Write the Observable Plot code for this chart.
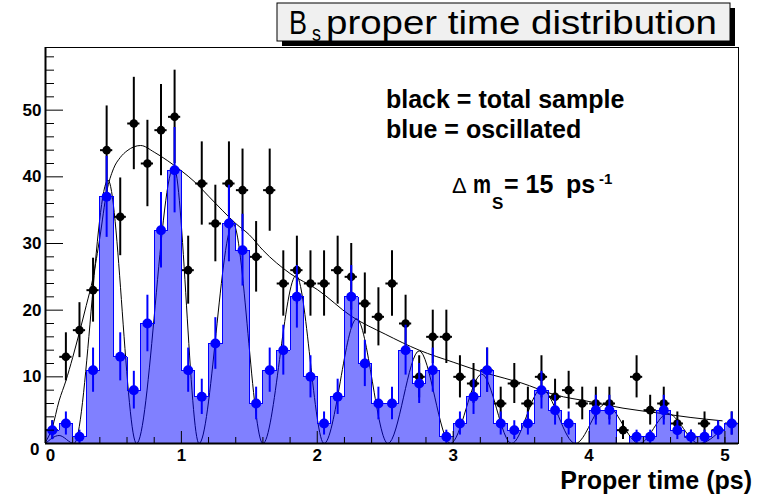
<!DOCTYPE html>
<html><head><meta charset="utf-8">
<script src="https://cdn.jsdelivr.net/npm/d3@7"></script>
<script src="https://cdn.jsdelivr.net/npm/@observablehq/plot@0.6"></script>
<style>
body{margin:0;background:#fff}
#chart{position:relative;width:765px;height:496px}
</style>
</head><body><div id="chart"></div>
<script>
// ---- data ----
const binWidth = 0.1;
const binCenters = [0.05,0.15,0.25,0.35,0.45,0.55,0.65,0.75,0.85,0.95,
  1.05,1.15,1.25,1.35,1.45,1.55,1.65,1.75,1.85,1.95,
  2.05,2.15,2.25,2.35,2.45,2.55,2.65,2.75,2.85,2.95,
  3.05,3.15,3.25,3.35,3.45,3.55,3.65,3.75,3.85,3.95,
  4.05,4.15,4.25,4.35,4.45,4.55,4.65,4.75,4.85,4.95,5.05];
const totalCounts = [2,13,17,23,44,34,48,42,47,49,
  26,39,33,39,38,28,38,24,26,24,
  24,26,25,21,19,24,18,10,16,16,
  10,9,11,6,9,6,10,7,8,6,
  6,6,2,10,5,6,3,1,3,2,3];
const oscCounts = [2,3,1,11,37,13,8,18,32,41,
  11,7,15,33,29,6,11,14,22,10,
  3,7,22,12,6,6,14,9,11,1,
  3,7,11,3,2,3,8,5,3,0,
  5,5,0,1,1,5,2,1,1,2,3];
// fit curves
const totalFitT = [0,0.05,0.1,0.15,0.2,0.25,0.3,0.35,0.4,0.45,0.5,0.55,0.6,0.7,0.8,0.9,1.0,1.1,1.2,1.3,1.4,1.5,1.6,1.8,2.0,2.25,2.5,2.75,3.0,3.25,3.5,3.75,4.0,4.25,4.5,4.75,4.98];
const totalFitY = [0.2,2.4,6.4,9.4,12.9,16.7,20.7,24.9,30.9,37.7,41.2,42.9,43.9,44.7,43.7,42.4,40.9,39.2,37.1,35.0,33.0,31.3,29.0,25.5,23.1,19.1,16.4,14.0,12.2,10.5,9.1,7.3,6.3,5.3,4.6,3.9,3.4];
const oscFitT = [0,0.1,0.21,0.46,0.67,0.945,1.13,1.38,1.6,1.845,2.05,2.29,2.52,2.75,2.98,3.21,3.43,3.65,3.9,4.12,4.37,4.58,4.81,4.98];
const oscFitY = [0,1.2,0,39.5,0,41.5,0,33,0,25.2,0,18.7,0,13.9,0,10.4,0,8.2,0,5.9,0,4.5,0,2.2];
// axes
const xDomain = [0, 5.1];
const yDomain = [0, 59.4];
const xMajorTicks = [0,1,2,3,4,5];
const xMinorTicks = [0.2,0.4,0.6,0.8,1.2,1.4,1.6,1.8,2.2,2.4,2.6,2.8,3.2,3.4,3.6,3.8,4.2,4.4,4.6,4.8,5.0];
const yMajorTicks = [0,10,20,30,40,50];
const yMinorTicks = [2,4,6,8,12,14,16,18,22,24,26,28,32,34,36,38,42,44,46,48,52,54,56,58];
const xTickLabels = [1,2,3,4,5];
const yTickLabels = [10,20,30,40,50];

// ---- tables ----
const bins = binCenters.map((t, i) => ({t, total: totalCounts[i], osc: oscCounts[i]}));
const half = binWidth / 2;
const outline = [{x: xDomain[0], y: 0}]
  .concat(bins.flatMap(b => [{x: b.t - half, y: b.osc}, {x: b.t + half, y: b.osc}]))
  .concat([{x: xDomain[1], y: 0}]);
const totalFit = totalFitT.map((t, i) => ({t, y: totalFitY[i]}));
const oscFit = oscFitT.map((t, i) => ({t, y: oscFitY[i]}));
const oscNonZero = bins.filter(b => b.osc > 0);

const W = 765, H = 496, ML = 45, MR = 27, MT = 47, MB = 53;
const FW = W - ML - MR, FH = H - MT - MB;
const FONT = "'Liberation Sans', Arial, Helvetica, sans-serif";
const BLUE = "#0000ff";
const fmt = d3.format("d");

const svg = Plot.plot({
  width: W, height: H,
  marginLeft: ML, marginRight: MR, marginTop: MT, marginBottom: MB,
  style: {fontFamily: FONT, background: "#fff", color: "#000"},
  x: {domain: xDomain, label: null, axis: null},
  y: {domain: yDomain, label: null, axis: null},
  marks: [
    // black (total sample)
    Plot.ruleX(bins, {x: "t", y1: d => d.total - Math.sqrt(d.total), y2: d => d.total + Math.sqrt(d.total), stroke: "#000", strokeWidth: 2}),
    Plot.ruleY(bins, {y: "total", x1: d => d.t - 0.045, x2: d => d.t + 0.045, stroke: "#000", strokeWidth: 2}),
    Plot.dot(bins, {x: "t", y: "total", r: 4.3, fill: "#000", stroke: null}),
    // fit curves
    Plot.line(totalFit, {x: "t", y: "y", stroke: "#000", strokeWidth: 1, curve: "monotone-x"}),
    Plot.line(oscFit, {x: "t", y: "y", stroke: "#000", strokeWidth: 1, curve: "monotone-x"}),
    // blue (oscillated) histogram
    Plot.rectY(bins, {x1: d => d.t - half, x2: d => d.t + half, y: "osc", fill: "url(#dots)", shapeRendering: "crispEdges"}),
    Plot.line(outline, {x: "x", y: "y", stroke: BLUE, strokeWidth: 1, shapeRendering: "crispEdges"}),
    Plot.ruleX(oscNonZero, {x: "t", y1: d => d.osc - Math.sqrt(d.osc), y2: d => d.osc + Math.sqrt(d.osc), stroke: BLUE, strokeWidth: 2}),
    Plot.dot(oscNonZero, {x: "t", y: "osc", r: 5, fill: BLUE, stroke: null}),
    // frame and ticks
    Plot.frame({stroke: "#000", strokeWidth: 1}),
    Plot.ruleX([xDomain[0]], {stroke: "#000", strokeWidth: 2}),
    Plot.ruleY([yDomain[0]], {stroke: "#000", strokeWidth: 2}),
    Plot.tickY(yMajorTicks, {y: d => d, stroke: "#000", strokeWidth: 1, insetRight: FW - 18}),
    Plot.tickY(yMinorTicks, {y: d => d, stroke: "#000", strokeWidth: 1, insetRight: FW - 9}),
    Plot.tickX(xMajorTicks, {x: d => d, stroke: "#000", strokeWidth: 1, insetTop: FH - 12}),
    Plot.tickX(xMinorTicks, {x: d => d, stroke: "#000", strokeWidth: 1, insetTop: FH - 6}),
    Plot.axisY(yTickLabels, {anchor: "left", tickSize: 0, tickPadding: 4, tickFormat: fmt, fontSize: 17, fontWeight: "bold", fill: "#000"}),
    Plot.axisY([0], {anchor: "left", tickSize: 0, tickPadding: 6, dy: 6, tickFormat: fmt, fontSize: 17, fontWeight: "bold", fill: "#000"}),
    Plot.axisX(xTickLabels, {anchor: "bottom", tickSize: 0, tickPadding: 5, tickFormat: fmt, fontSize: 17, fontWeight: "bold", fill: "#000"}),
    Plot.axisX([0], {anchor: "bottom", tickSize: 0, tickPadding: 5, dx: 5, tickFormat: fmt, fontSize: 17, fontWeight: "bold", fill: "#000"})
  ]
});

const s = d3.select(svg);
s.insert("defs", ":first-child").html(
  '<pattern id="dots" x="0.5" y="0.5" width="2" height="2" patternUnits="userSpaceOnUse">' +
  '<rect x="0" y="0" width="1" height="1" fill="#0000ff" shape-rendering="crispEdges"/>' +
  '<rect x="1" y="1" width="1" height="1" fill="#0000ff" shape-rendering="crispEdges"/></pattern>');

const g = s.append("g").attr("font-family", FONT).attr("fill", "#000").attr("text-anchor", "start");
// title box with shadow
g.append("rect").attr("x", 282).attr("y", 8).attr("width", 453).attr("height", 38).attr("fill", "#000");
g.append("rect").attr("x", 277).attr("y", 3).attr("width", 453).attr("height", 38)
  .attr("fill", "#f0f0f0").attr("stroke", "#000").attr("stroke-width", 1);
const title = g.append("text").attr("y", 34).attr("font-size", 34);
title.append("tspan").attr("x", 289).attr("textLength", 18).attr("lengthAdjust", "spacingAndGlyphs").text("B");
title.append("tspan").attr("x", 312).attr("dy", 7).attr("font-size", 22)
  .attr("textLength", 9).attr("lengthAdjust", "spacingAndGlyphs").text("s");
title.append("tspan").attr("x", 326).attr("dy", -7)
  .attr("textLength", 391).attr("lengthAdjust", "spacingAndGlyphs").text("proper time distribution");
// legend texts
g.append("text").attr("x", 386).attr("y", 108).attr("font-size", 25).attr("font-weight", "bold").text("black = total sample");
g.append("text").attr("x", 386).attr("y", 138).attr("font-size", 25).attr("font-weight", "bold").text("blue = oscillated");
const dm = g.append("text").attr("y", 193).attr("font-size", 25).attr("font-weight", "bold");
dm.append("tspan").attr("x", 452).attr("font-size", 22).attr("font-weight", "normal").text("Δ");
dm.append("tspan").attr("x", 473).attr("textLength", 18).attr("lengthAdjust", "spacingAndGlyphs").text("m");
dm.append("tspan").attr("x", 492).attr("dy", 16).attr("font-size", 17).text("S");
dm.append("tspan").attr("x", 504).attr("dy", -16).text("= 15");
dm.append("tspan").attr("x", 566).text("ps");
dm.append("tspan").attr("x", 599).attr("dy", -9).attr("font-size", 15).text("-1");
// x axis title
g.append("text").attr("x", 752).attr("y", 489).attr("font-size", 25).attr("font-weight", "bold")
  .attr("text-anchor", "end").text("Proper time (ps)");

document.getElementById("chart").appendChild(svg);
</script>
</body></html>
